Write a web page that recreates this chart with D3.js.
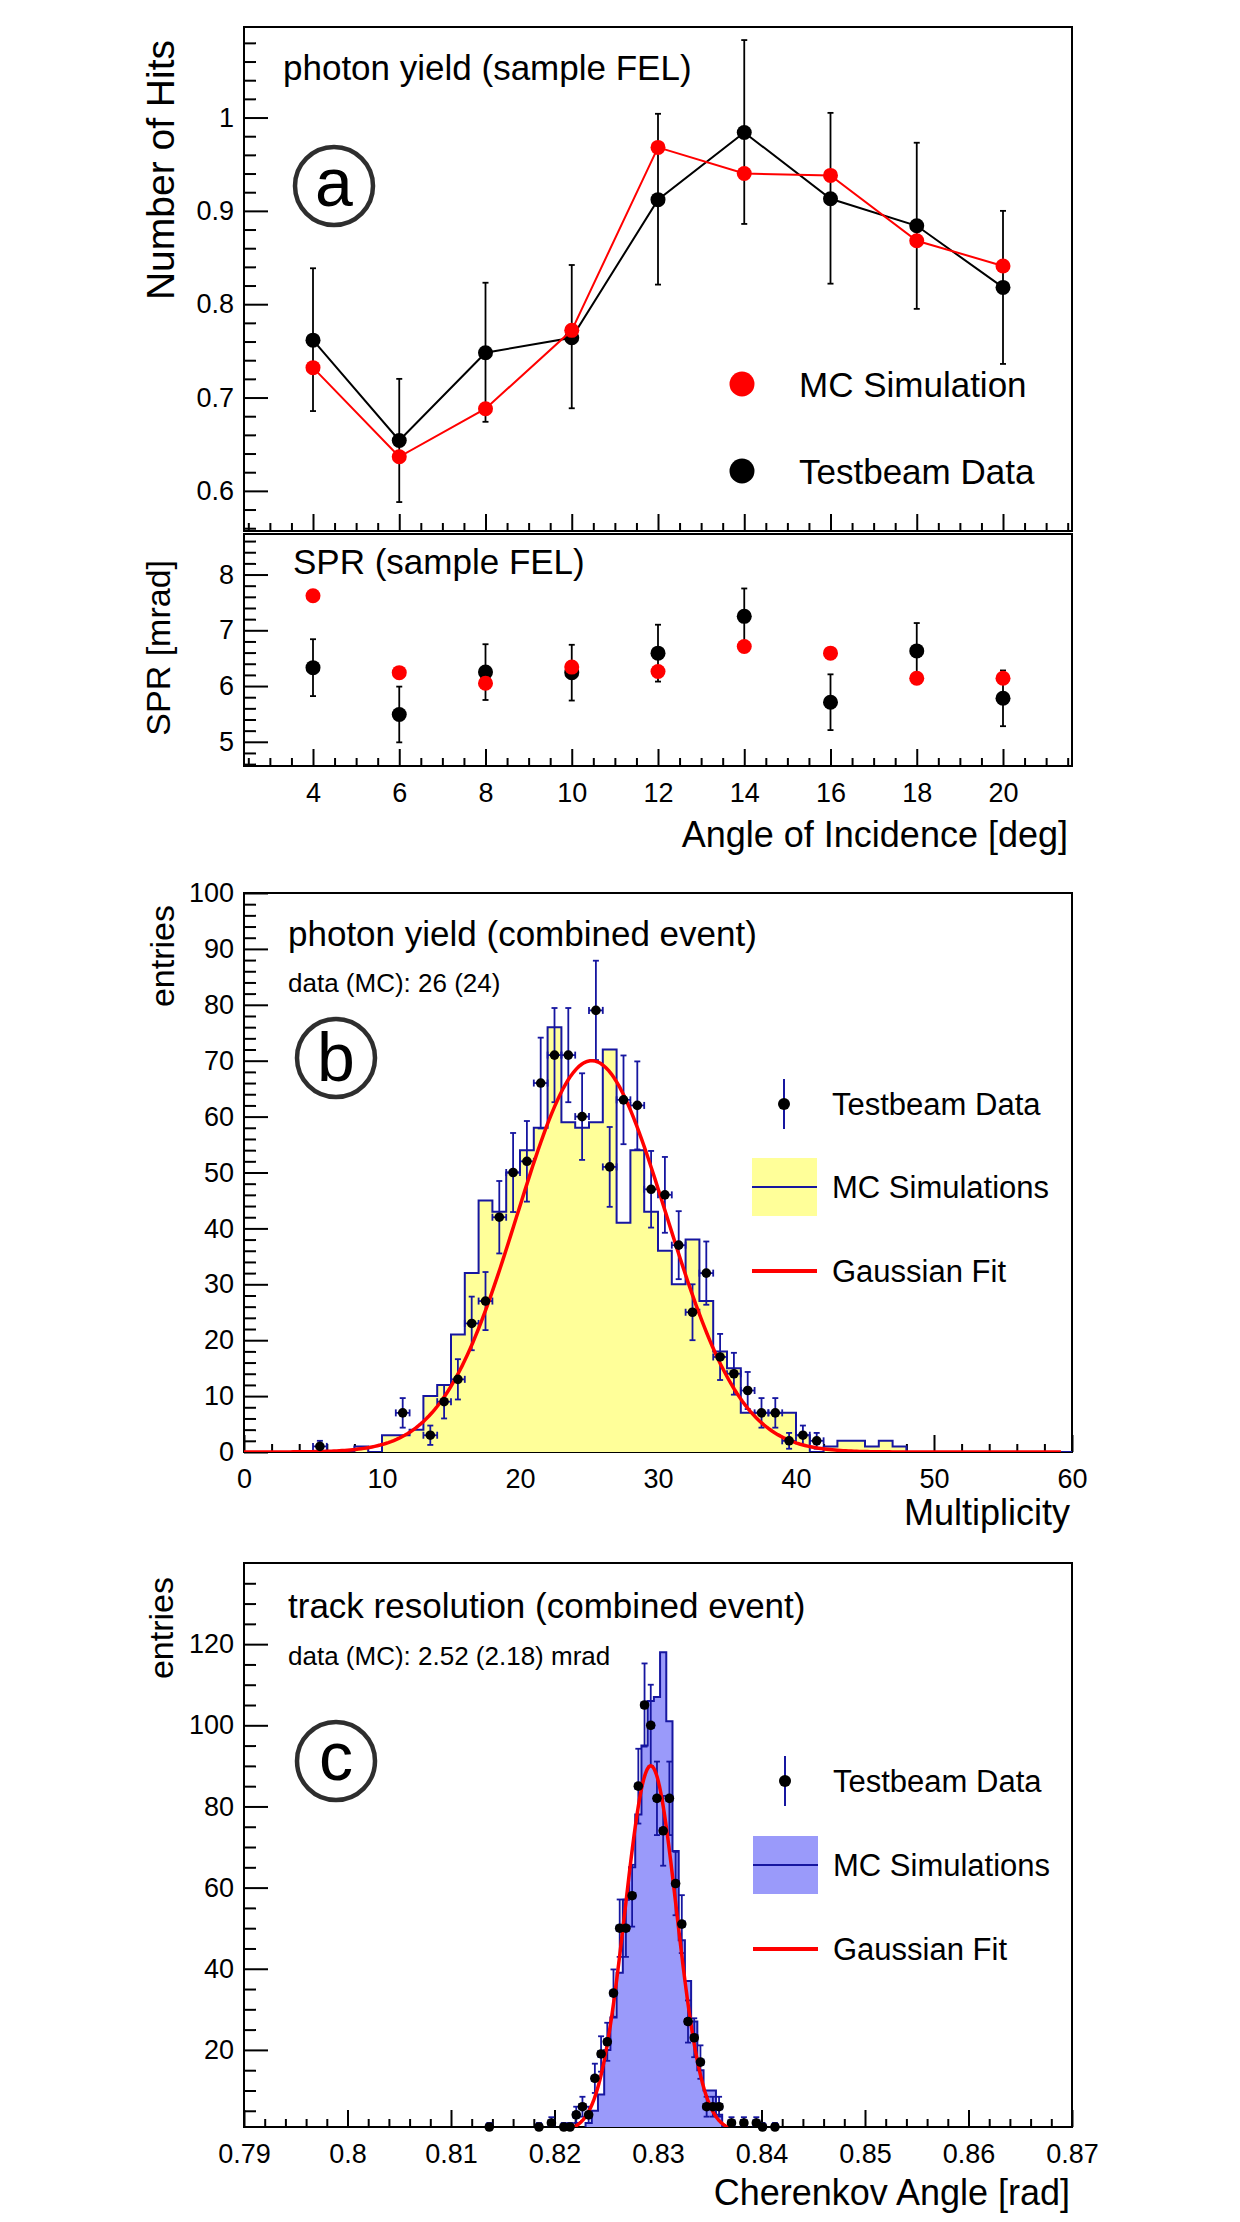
<!DOCTYPE html>
<html>
<head>
<meta charset="utf-8">
<script src="https://cdn.jsdelivr.net/npm/d3@7"></script>
<style>
  body { margin: 0; background: #fff; }
</style>
</head>
<body>
<svg id="fig" width="1240" height="2222"></svg>
<script>
// ---------- data ----------
const angles = [4, 6, 8, 10, 12, 14, 16, 18, 20];
const yieldData = [0.7615, 0.654, 0.748, 0.764, 0.912, 0.984, 0.913, 0.884, 0.818];
const yieldDataLo = [0.6855, 0.588, 0.674, 0.6885, 0.821, 0.886, 0.822, 0.795, 0.736];
const yieldDataHi = [0.8385, 0.720, 0.823, 0.842, 1.004, 1.083, 1.005, 0.973, 0.900];
const yieldMC = [0.732, 0.6365, 0.688, 0.772, 0.968, 0.940, 0.938, 0.868, 0.841];

const sprData = [6.33, 5.49, 6.25, 6.24, 6.59, 7.25, 5.71, 6.63, 5.78];
const sprErr = [0.51, 0.50, 0.50, 0.50, 0.51, 0.50, 0.50, 0.50, 0.50];
const sprMC = [7.62, 6.24, 6.05, 6.34, 6.26, 6.71, 6.59, 6.14, 6.14];

// multiplicity histogram (MC, 1 unit bins from 0) and testbeam points
const mcMultLo = 0, mcMultWidth = 1;
const mcMult = [0, 0, 0, 0, 0, 0, 0, 0, 1, 0, 3, 3, 4, 10, 12, 21, 32, 45, 43, 50,
                54, 58, 76, 59, 58, 59, 72, 41, 54, 43, 36, 30, 38, 27, 18, 15, 7, 7, 7, 7,
                3, 0, 1, 2, 2, 1, 2, 1, 0, 0, 0, 0, 0, 0, 0, 0, 0, 0, 0, 0];
const dataMultX = [5.5, 11.5, 13.5, 14.5, 15.5, 16.5, 17.5, 18.5, 19.5, 20.5,
                   21.5, 22.5, 23.5, 24.5, 25.5, 26.5, 27.5, 28.5, 29.5, 30.5,
                   31.5, 32.5, 33.5, 34.5, 35.5, 36.5, 37.5, 38.5, 39.5, 40.5, 41.5];
const dataMultN = [1, 7, 3, 9, 13, 23, 27, 42, 50, 52,
                   66, 71, 71, 60, 79, 51, 63, 62, 47, 46,
                   37, 25, 32, 17, 14, 11, 7, 7, 2, 3, 2];
const fitMultParams = [70, 25.2, 5.4];     // amplitude, mean, sigma
const fitMultRange = [0, 59.2];

// cherenkov angle histogram (MC, 0.0006 rad bins) and testbeam points
const mcAngLo = 0.8230, mcAngWidth = 0.0006;
const mcAng = [2, 5, 9, 20, 28, 39, 57, 65, 78, 95, 106, 107, 118, 101, 69, 47, 37, 27, 15, 10, 10, 4, 1];
const dataAngX = [0.8137, 0.8185, 0.8197, 0.8209, 0.8215, 0.8221, 0.8227, 0.8233, 0.8239, 0.8245,
                  0.8251, 0.8257, 0.8263, 0.8269, 0.8275, 0.8281, 0.8287, 0.8293, 0.8299, 0.8305,
                  0.8311, 0.8317, 0.8323, 0.8329, 0.8335, 0.8341, 0.8347, 0.8353, 0.8359, 0.8371,
                  0.8383, 0.8395, 0.8401, 0.8413];
const dataAngN = [1, 1, 2, 1, 1, 4, 6, 4, 13, 19,
                  22, 34, 50, 50, 58, 85, 105, 100, 82, 74,
                  82, 61, 51, 27, 23, 17, 6, 6, 6, 2,
                  2, 2, 1, 1];
const fitAngParams = [90, 0.8293, 0.00248];
const fitAngRange = [0.8215, 0.8375];

// axis ticks
const yieldTicks = [0.6, 0.7, 0.8, 0.9, 1];
const yieldLabels = ['0.6', '0.7', '0.8', '0.9', '1'];
const sprTicks = [5, 6, 7, 8];
const sprLabels = ['5', '6', '7', '8'];
const angleLabels = ['4', '6', '8', '10', '12', '14', '16', '18', '20'];
const multTicks = [0, 10, 20, 30, 40, 50, 60];
const multLabels = ['0', '10', '20', '30', '40', '50', '60'];
const entMultTicks = [0, 10, 20, 30, 40, 50, 60, 70, 80, 90, 100];
const entMultLabels = ['0', '10', '20', '30', '40', '50', '60', '70', '80', '90', '100'];
const chTicks = [0.79, 0.80, 0.81, 0.82, 0.83, 0.84, 0.85, 0.86, 0.87];
const chLabels = ['0.79', '0.8', '0.81', '0.82', '0.83', '0.84', '0.85', '0.86', '0.87'];
const entAngTicks = [20, 40, 60, 80, 100, 120];
const entAngLabels = ['20', '40', '60', '80', '100', '120'];

// ---------- layout ----------
const FONT = '"Liberation Sans", Arial, Helvetica, sans-serif';
const X0 = 244, X1 = 1072;
const BLUE = '#1616a0';

const svg = d3.select('#fig');

const xAng = d3.scaleLinear().domain([2.4, 21.6]).range([X0, X1]);
const yYield = d3.scaleLinear().domain([0.557, 1.097]).range([531, 27]);
const ySpr = d3.scaleLinear().domain([4.566, 8.727]).range([766, 534]);
const xMult = d3.scaleLinear().domain([0, 60]).range([X0, X1]);
const yMult = d3.scaleLinear().domain([0, 100]).range([1452, 893]);
const xCh = d3.scaleLinear().domain([0.79, 0.87]).range([X0, X1]);
const yCh = d3.scaleLinear().domain([1, 140]).range([2127, 1563]);

const minorTicks = (lo, hi, step, major) => d3.range(Math.round((hi - lo) / step) + 1)
    .map(i => lo + i * step)
    .filter(v => !major.some(m => Math.abs(m - v) < step / 10));

const clip = (id, y) => {
    svg.append('clipPath').attr('id', id)
        .append('rect')
        .attr('x', X0).attr('y', y.range()[1])
        .attr('width', X1 - X0).attr('height', y.range()[0] - y.range()[1]);
    return svg.append('g').attr('clip-path', `url(#${id})`);
};

const axes = (x, y, o) => {
    const bottom = y.range()[0], top = y.range()[1];
    const g = svg.append('g');
    g.append('g').attr('transform', `translate(${X0},0)`)
        .call(d3.axisLeft(y).tickValues(o.yMinor).tickSize(-12).tickFormat(''));
    g.append('g').attr('transform', `translate(${X0},0)`)
        .call(d3.axisLeft(y).tickValues(o.yMajor).tickSize(-24).tickPadding(10)
            .tickFormat((d, i) => o.yLabels[i]));
    g.append('g').attr('transform', `translate(0,${bottom})`)
        .call(d3.axisBottom(x).tickValues(o.xMinor).tickSize(-8).tickFormat(''));
    g.append('g').attr('transform', `translate(0,${bottom})`)
        .call(d3.axisBottom(x).tickValues(o.xMajor).tickSize(-17).tickPadding(17)
            .tickFormat((d, i) => o.xLabels ? o.xLabels[i] : ''));
    g.selectAll('.domain').remove();
    g.selectAll('line').attr('stroke', '#000').attr('stroke-width', 2);
    g.selectAll('text').attr('font-family', FONT).attr('font-size', 27).attr('fill', '#000');
    svg.append('rect')
        .attr('x', X0).attr('y', top)
        .attr('width', X1 - X0).attr('height', bottom - top)
        .attr('fill', 'none').attr('stroke', '#000').attr('stroke-width', 2);
};

const label = (x, y, txt, size, anchor = 'start') => svg.append('text')
    .attr('x', x).attr('y', y)
    .attr('font-family', FONT).attr('font-size', size)
    .attr('text-anchor', anchor).attr('fill', '#000')
    .text(txt);

const yTitle = (x, y, txt, size) => svg.append('text')
    .attr('transform', `translate(${x},${y}) rotate(-90)`)
    .attr('font-family', FONT).attr('font-size', size)
    .attr('text-anchor', 'end').attr('fill', '#000')
    .text(txt);

const badge = (cx, cy, letter, dy) => {
    svg.append('circle').attr('cx', cx).attr('cy', cy).attr('r', 39)
        .attr('fill', 'none').attr('stroke', '#2e2e2e').attr('stroke-width', 4.5);
    label(cx, cy + dy, letter, 68, 'middle');
};

const errBar = (g, x0, y0, y1, cap, color, width) => {
    g.append('line').attr('x1', x0).attr('x2', x0).attr('y1', y0).attr('y2', y1)
        .attr('stroke', color).attr('stroke-width', width);
    [y0, y1].forEach(yy => g.append('line')
        .attr('x1', x0 - cap).attr('x2', x0 + cap).attr('y1', yy).attr('y2', yy)
        .attr('stroke', color).attr('stroke-width', width));
};

const histPath = (x, y, lo, w, counts, base) => {
    let p = `M${x(lo)},${y(base)}`;
    counts.forEach((c, k) => { p += `V${y(c)}H${x(lo + (k + 1) * w)}`; });
    return p + `V${y(base)}`;
};

const gaussPoints = (params, range, n) => d3.range(n + 1).map(i => {
    const v = range[0] + (range[1] - range[0]) * i / n;
    return [v, params[0] * Math.exp(-0.5 * Math.pow((v - params[1]) / params[2], 2))];
});

// ---------- panel a : photon yield ----------
const angMajor = angles;
const angMinor = minorTicks(2.5, 21.5, 0.5, angMajor);

axes(xAng, yYield, {
    yMajor: yieldTicks, yLabels: yieldLabels,
    yMinor: minorTicks(0.56, 1.08, 0.02, yieldTicks),
    xMajor: angMajor, xMinor: angMinor, xLabels: null
});

const gA = clip('clipA', yYield);
angles.forEach((a, i) => errBar(gA, xAng(a), yYield(yieldDataLo[i]), yYield(yieldDataHi[i]), 3, '#000', 1.8));

const lineA = d3.line().x((d, i) => xAng(angles[i])).y(d => yYield(d));
gA.append('path').attr('d', lineA(yieldData))
    .attr('fill', 'none').attr('stroke', '#000').attr('stroke-width', 2);
gA.selectAll('.dotData').data(yieldData).enter()
    .append('circle')
    .attr('cx', (d, i) => xAng(angles[i])).attr('cy', d => yYield(d))
    .attr('r', 7.5).attr('fill', '#000');
gA.append('path').attr('d', lineA(yieldMC))
    .attr('fill', 'none').attr('stroke', '#ff0000').attr('stroke-width', 2);
gA.selectAll('.dotMC').data(yieldMC).enter()
    .append('circle')
    .attr('cx', (d, i) => xAng(angles[i])).attr('cy', d => yYield(d))
    .attr('r', 7.5).attr('fill', '#ff0000');

label(283, 80, 'photon yield (sample FEL)', 35);
badge(334, 186, 'a', 20);
svg.append('circle').attr('cx', 742).attr('cy', 384).attr('r', 12.5).attr('fill', '#ff0000');
svg.append('circle').attr('cx', 742).attr('cy', 471).attr('r', 12.5).attr('fill', '#000');
label(799, 397, 'MC Simulation', 35);
label(799, 484, 'Testbeam Data', 35);
yTitle(174, 40, 'Number of Hits', 39);

// ---------- SPR panel ----------
axes(xAng, ySpr, {
    yMajor: sprTicks, yLabels: sprLabels,
    yMinor: minorTicks(4.6, 8.6, 0.2, sprTicks),
    xMajor: angMajor, xMinor: angMinor, xLabels: angleLabels
});
const gS = clip('clipS', ySpr);
angles.forEach((a, i) => errBar(gS, xAng(a), ySpr(sprData[i] - sprErr[i]), ySpr(sprData[i] + sprErr[i]), 3, '#000', 1.8));
gS.selectAll('.sprData').data(sprData).enter()
    .append('circle')
    .attr('cx', (d, i) => xAng(angles[i])).attr('cy', d => ySpr(d))
    .attr('r', 7.5).attr('fill', '#000');
gS.selectAll('.sprMC').data(sprMC).enter()
    .append('circle')
    .attr('cx', (d, i) => xAng(angles[i])).attr('cy', d => ySpr(d))
    .attr('r', 7.5).attr('fill', '#ff0000');
label(293, 574, 'SPR (sample FEL)', 35);
yTitle(170, 560, 'SPR [mrad]', 34);
label(1068, 847, 'Angle of Incidence [deg]', 36, 'end');

// ---------- histogram panels ----------
const histPanel = (x, y, o) => {
    const g = clip(o.id, y);
    g.append('path')
        .attr('d', histPath(x, y, o.lo, o.w, o.mc, 0) + 'Z')
        .attr('fill', o.fill).attr('stroke', 'none');
    g.append('path')
        .attr('d', histPath(x, y, o.lo, o.w, o.mc, 0))
        .attr('fill', 'none').attr('stroke', BLUE).attr('stroke-width', 2);
    const hw = o.w / 2;
    o.dataX.forEach((c, i) => {
        const n = o.dataN[i], e = Math.sqrt(n);
        errBar(g, x(c), y(n - e), y(n + e), 3, BLUE, 1.8);
        g.append('line').attr('x1', x(c - hw)).attr('x2', x(c + hw))
            .attr('y1', y(n)).attr('y2', y(n))
            .attr('stroke', BLUE).attr('stroke-width', 1.8);
        [c - hw, c + hw].forEach(xx => g.append('line')
            .attr('x1', x(xx)).attr('x2', x(xx)).attr('y1', y(n) - 3.5).attr('y2', y(n) + 3.5)
            .attr('stroke', BLUE).attr('stroke-width', 1.8));
    });
    // markers are not clipped (as in ROOT), so the ones on the axis stay whole
    svg.append('g').selectAll('circle').data(o.dataN).enter()
        .append('circle')
        .attr('cx', (d, i) => x(o.dataX[i])).attr('cy', d => y(d))
        .attr('r', 4.8).attr('fill', '#000');
    g.append('path')
        .attr('d', d3.line().x(d => x(d[0])).y(d => y(d[1]))(gaussPoints(o.fit, o.fitRange, 300)))
        .attr('fill', 'none').attr('stroke', '#ff0000').attr('stroke-width', 3.5);

    // legend
    const L = o.legend;
    svg.append('line').attr('x1', L.mx).attr('x2', L.mx).attr('y1', L.my - 25).attr('y2', L.my + 25)
        .attr('stroke', BLUE).attr('stroke-width', 2);
    svg.append('circle').attr('cx', L.mx).attr('cy', L.my).attr('r', 6).attr('fill', '#000');
    svg.append('rect').attr('x', L.bx).attr('y', L.by).attr('width', 65).attr('height', 58)
        .attr('fill', o.fill);
    svg.append('line').attr('x1', L.bx).attr('x2', L.bx + 65).attr('y1', L.by + 29).attr('y2', L.by + 29)
        .attr('stroke', BLUE).attr('stroke-width', 2);
    svg.append('line').attr('x1', L.bx).attr('x2', L.bx + 65).attr('y1', L.gy).attr('y2', L.gy)
        .attr('stroke', '#ff0000').attr('stroke-width', 4);
    label(L.tx, L.my + 11, 'Testbeam Data', 31);
    label(L.tx, L.by + 40, 'MC Simulations', 31);
    label(L.tx, L.gy + 11, 'Gaussian Fit', 31);
};

// ---------- panel b : multiplicity ----------
axes(xMult, yMult, {
    yMajor: entMultTicks, yLabels: entMultLabels,
    yMinor: minorTicks(0, 100, 2, entMultTicks),
    xMajor: multTicks, xMinor: minorTicks(0, 60, 2, multTicks), xLabels: multLabels
});
histPanel(xMult, yMult, {
    id: 'clipB', lo: mcMultLo, w: mcMultWidth, mc: mcMult, fill: '#ffff99',
    dataX: dataMultX, dataN: dataMultN, fit: fitMultParams, fitRange: fitMultRange,
    legend: { mx: 784, my: 1104, bx: 752, by: 1158, gy: 1271, tx: 832 }
});
label(288, 946, 'photon yield (combined event)', 35);
label(288, 992, 'data (MC): 26 (24)', 26);
badge(336, 1058, 'b', 23);
yTitle(174, 905, 'entries', 34);
label(1070, 1525, 'Multiplicity', 36, 'end');

// ---------- panel c : cherenkov angle ----------
axes(xCh, yCh, {
    yMajor: entAngTicks, yLabels: entAngLabels,
    yMinor: minorTicks(5, 135, 5, entAngTicks),
    xMajor: chTicks, xMinor: minorTicks(0.79, 0.87, 0.002, chTicks), xLabels: chLabels
});
histPanel(xCh, yCh, {
    id: 'clipC', lo: mcAngLo, w: mcAngWidth, mc: mcAng, fill: '#9a9afa',
    dataX: dataAngX, dataN: dataAngN, fit: fitAngParams, fitRange: fitAngRange,
    legend: { mx: 785, my: 1781, bx: 753, by: 1836, gy: 1949, tx: 833 }
});
label(288, 1618, 'track resolution (combined event)', 35);
label(288, 1665, 'data (MC): 2.52 (2.18) mrad', 26);
badge(336, 1761, 'c', 19);
yTitle(173, 1577, 'entries', 34);
label(1070, 2205, 'Cherenkov Angle [rad]', 36, 'end');
</script>
</body>
</html>
